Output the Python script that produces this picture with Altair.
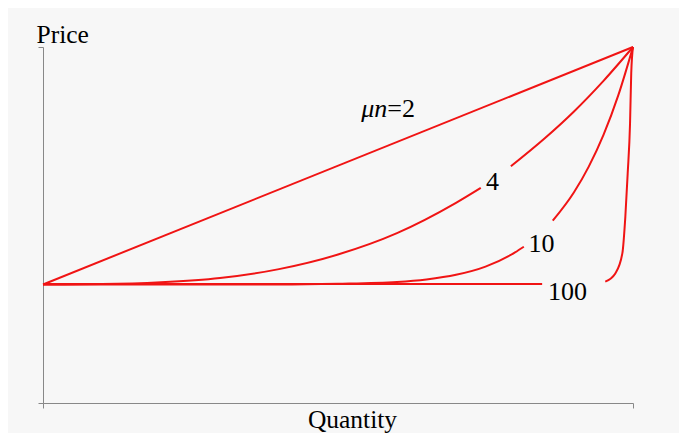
import altair as alt
import pandas as pd

# Curve data (Quantity, Price), split where labels interrupt the lines
q2 = [0.0, 1.0]
p2 = [0.333, 1.0]

q4a = [0.0, 0.1, 0.2, 0.3, 0.4, 0.5, 0.6, 0.7, 0.742]
p4a = [0.333, 0.334, 0.339, 0.351, 0.376, 0.417, 0.477, 0.562, 0.604]
q4b = [0.793, 0.85, 0.9, 0.95, 1.0]
p4b = [0.665, 0.743, 0.819, 0.905, 1.0]

q10a = [0.0, 0.2, 0.4, 0.5, 0.6, 0.65, 0.7, 0.75, 0.8, 0.815]
p10a = [0.333, 0.333, 0.333, 0.335, 0.340, 0.347, 0.360, 0.383, 0.423, 0.439]
q10b = [0.864, 0.9, 0.925, 0.95, 0.975, 1.0]
p10b = [0.512, 0.592, 0.664, 0.753, 0.864, 1.0]

q100a = [0.0, 0.846]
p100a = [0.334, 0.334]
q100b = [0.953, 0.970, 0.982, 0.987, 0.991, 0.995, 0.997, 1.0]
p100b = [0.341, 0.364, 0.421, 0.523, 0.645, 0.786, 0.926, 1.0]

segments = [
    ("2", q2, p2), ("4a", q4a, p4a), ("4b", q4b, p4b),
    ("10a", q10a, p10a), ("10b", q10b, p10b),
    ("100a", q100a, p100a), ("100b", q100b, p100b),
]

# Labels
label_text = ["4", "10", "100"]
label_q = [0.762, 0.845, 0.889]
label_p = [0.598, 0.424, 0.289]

mu_q = [0.5835]
mu_p = [0.803]

rows = []
for name, qs, ps in segments:
    for q, p in zip(qs, ps):
        rows.append({"seg": name, "q": q, "p": p})
lines_df = pd.DataFrame(rows)
labels_df = pd.DataFrame({"t": label_text, "q": label_q, "p": label_p})
mu_df = pd.DataFrame({"q": mu_q, "p": mu_p})

FONT = "Times New Roman, Liberation Serif, serif"
RED = "#f01414"

xs = alt.Scale(domain=[0, 1], nice=False, zero=False)
ys = alt.Scale(domain=[0, 1], nice=False, zero=False)

x_axis = alt.Axis(values=[0, 1], labels=False, grid=False, tickSize=5,
                  tickColor="#888888", domainColor="#888888", title="Quantity",
                  titleFont=FONT, titleFontSize=25.5, titleFontWeight="normal",
                  titleColor="#000000", titleX=309, titleY=24,
                  titleAlign="center", titleBaseline="alphabetic")
y_axis = alt.Axis(values=[0, 1], labels=False, grid=False, tickSize=5,
                  tickColor="#888888", domainColor="#888888", title="Price",
                  titleFont=FONT, titleFontSize=25.5, titleFontWeight="normal",
                  titleColor="#000000", titleAngle=0, titleX=-7, titleY=-5,
                  titleAlign="left", titleBaseline="alphabetic")

lines = alt.Chart(lines_df).mark_line(
    interpolate="monotone", strokeWidth=2, color=RED
).encode(
    x=alt.X("q:Q", scale=xs, axis=x_axis),
    y=alt.Y("p:Q", scale=ys, axis=y_axis),
    detail="seg:N",
    order="q:Q",
)

labels = alt.Chart(labels_df).mark_text(
    font=FONT, fontSize=26, align="center", baseline="alphabetic", color="#000000"
).encode(
    x=alt.X("q:Q", scale=xs), y=alt.Y("p:Q", scale=ys), text="t:N"
)

mu_part = alt.Chart(mu_df).mark_text(
    font=FONT, fontSize=26, fontStyle="italic", align="right",
    baseline="alphabetic", color="#000000", text="μn"
).encode(x=alt.X("q:Q", scale=xs), y=alt.Y("p:Q", scale=ys))

eq_part = alt.Chart(mu_df).mark_text(
    font=FONT, fontSize=26, align="left",
    baseline="alphabetic", color="#000000", text="=2"
).encode(x=alt.X("q:Q", scale=xs), y=alt.Y("p:Q", scale=ys))

chart = alt.layer(lines, labels, mu_part, eq_part).properties(
    width=590, height=356,
    autosize=alt.AutoSizeParams(type="none"),
    padding={"left": 35, "top": 39, "right": 46, "bottom": 30},
    background="#f7f7f7",
).configure_view(stroke=None)

chart.save("out.html", embed_options={"renderer": "svg", "actions": False})
